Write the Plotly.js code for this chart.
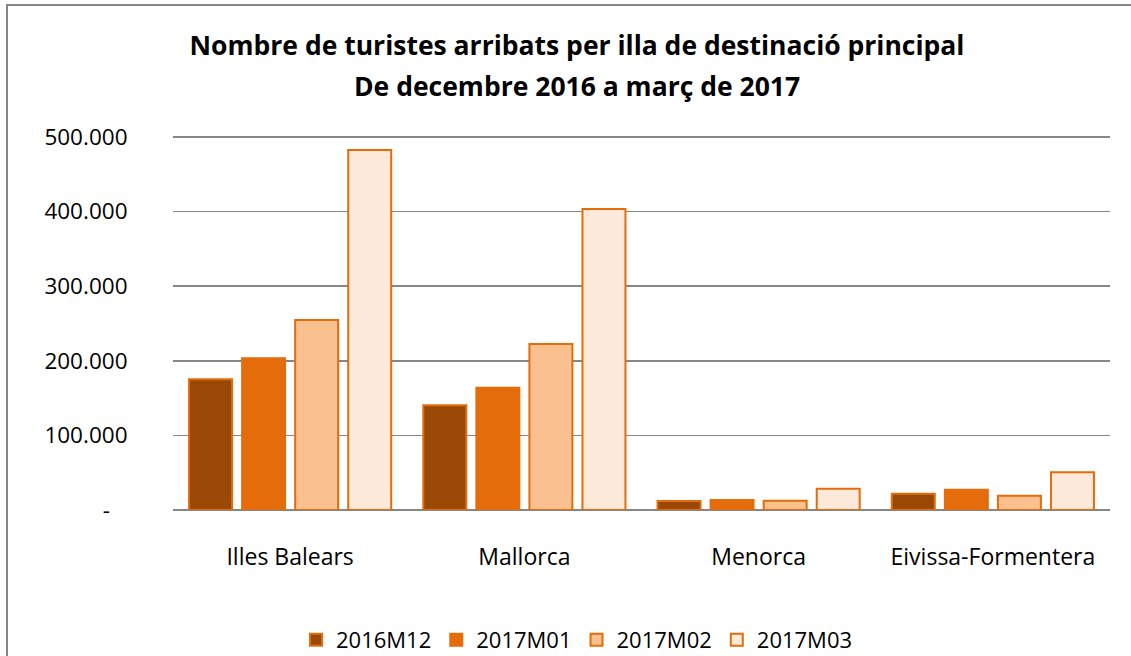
<!DOCTYPE html>
<html>
<head>
<meta charset="utf-8">
<script src="https://cdn.plot.ly/plotly-3.0.1.min.js"></script>
<style>
  html, body { margin: 0; padding: 0; background: #ffffff; }
  #wrap { position: relative; width: 1131px; height: 656px; overflow: hidden; }
  #chart { position: absolute; left: 0; top: 0; width: 1131px; height: 656px; }
  #frame { position: absolute; left: 6px; top: 4px; width: 1140px; height: 700px;
           border-top: 2px solid #868686; border-left: 2px solid #868686; pointer-events: none; }
</style>
</head>
<body>
<div id="wrap">
  <div id="chart"></div>
  <div id="frame"></div>
</div>
<script>
const categories = ["Illes Balears", "Mallorca", "Menorca", "Eivissa-Formentera"];
const seriesNames = ["2016M12", "2017M01", "2017M02", "2017M03"];
const v2016M12 = [175200, 140300, 12000, 21900];
const v2017M01 = [203300, 164000, 13400, 27200];
const v2017M02 = [254700, 222500, 12500, 19200];
const v2017M03 = [482600, 403500, 28500, 50500];
const tickValues = [0, 100000, 200000, 300000, 400000, 500000];
const tickLabels = ["-\u00a0\u00a0\u00a0", "100.000", "200.000", "300.000", "400.000", "500.000"];
const titleLine1 = "Nombre de turistes arribats per illa de destinació principal";
const titleLine2 = "De decembre 2016 a març de 2017";

const fills = ["#9A4806", "#E46C0A", "#FAC090", "#FDE9D9"];
const edge = "#E46C0A";
const allValues = [v2016M12, v2017M01, v2017M02, v2017M03];
const FONT = "Open Sans, Noto Sans, sans-serif";

const traces = seriesNames.map((name, i) => ({
  type: "bar",
  name: name,
  x: categories,
  y: allValues[i],
  marker: { color: fills[i], line: { color: edge, width: 2 } },
  hoverinfo: "x+y+name"
}));

const layout = {
  width: 1131,
  height: 656,
  paper_bgcolor: "#ffffff",
  plot_bgcolor: "#ffffff",
  margin: { l: 173, r: 21, t: 134, b: 146, pad: 0 },
  font: { family: FONT, size: 22, color: "#000000" },
  title: {
    text: "<b>" + titleLine1 + "</b>",
    font: { family: FONT, size: 26.5, color: "#000000" },
    xref: "container", x: 577 / 1131, xanchor: "center",
    yref: "container", y: 1 - 46 / 656, yanchor: "middle"
  },
  annotations: [{
    text: "<b>" + titleLine2 + "</b>",
    font: { family: FONT, size: 26.5, color: "#000000" },
    xref: "paper", yref: "paper",
    x: (577 - 173) / 937, y: (510 - 86) / 376,
    xanchor: "center", yanchor: "middle", showarrow: false
  }],
  barmode: "group",
  bargap: 0.094,
  bargroupgap: 0.19,
  xaxis: {
    type: "category",
    showgrid: false,
    zeroline: false,
    showline: false,
    ticks: "outside", ticklen: 26, tickcolor: "rgba(0,0,0,0)",
    tickfont: { family: FONT, size: 23, color: "#000000" }
  },
  yaxis: {
    range: [0, 504000],
    tickmode: "array",
    tickvals: tickValues,
    ticktext: tickLabels,
    showgrid: true,
    gridcolor: "#868686",
    gridwidth: 1.5,
    zeroline: true,
    zerolinecolor: "#868686",
    zerolinewidth: 2,
    showline: false,
    ticks: "outside", ticklen: 40, tickcolor: "rgba(0,0,0,0)",
    tickfont: { family: FONT, size: 22.5, color: "#000000" }
  },
  showlegend: true,
  legend: {
    orientation: "h",
    xref: "container", x: 577 / 1131, xanchor: "center",
    yref: "container", y: 1 - 640 / 656, yanchor: "middle",
    font: { family: FONT, size: 22, color: "#000000" },
    traceorder: "normal",
    itemwidth: 30
  }
};

Plotly.newPlot("chart", traces, layout, { displayModeBar: false, staticPlot: true });
</script>
</body>
</html>
